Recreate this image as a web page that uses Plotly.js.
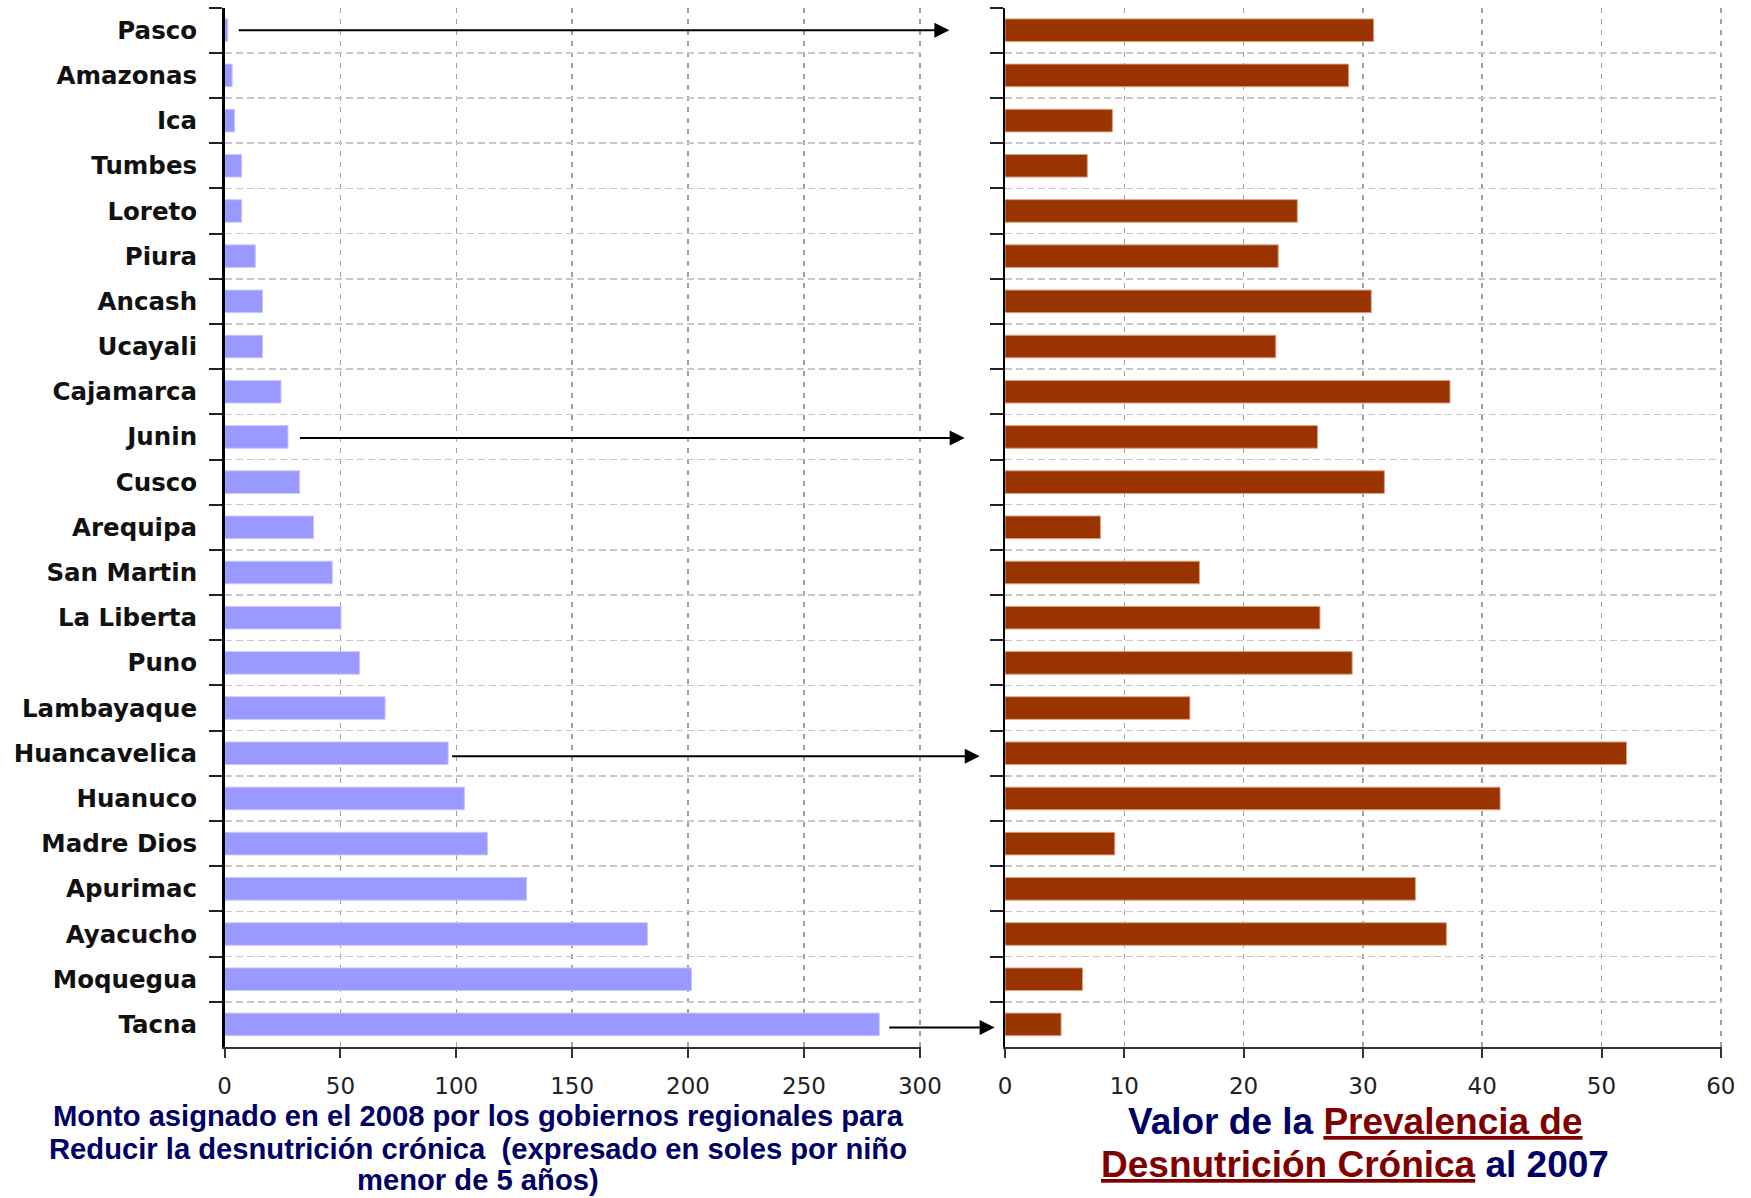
<!DOCTYPE html>
<html>
<head>
<meta charset="utf-8">
<script src="https://cdn.plot.ly/plotly-3.0.1.min.js"></script>
<style>
  html, body { margin: 0; padding: 0; background: #ffffff; }
  #chart { width: 1751px; height: 1198px; }
</style>
</head>
<body>
<div id="chart"></div>
<script>
// ---- Data ----
const regiones = ["Pasco", "Amazonas", "Ica", "Tumbes", "Loreto", "Piura", "Ancash", "Ucayali",
  "Cajamarca", "Junin", "Cusco", "Arequipa", "San Martin", "La Liberta", "Puno", "Lambayaque",
  "Huancavelica", "Huanuco", "Madre Dios", "Apurimac", "Ayacucho", "Moquegua", "Tacna"];

// Monto asignado 2008 (soles por niño menor de 5 años)
const montoSoles = [1.4, 3.3, 4.3, 7.4, 7.4, 13.3, 16.4, 16.4,
  24.4, 27.4, 32.4, 38.4, 46.5, 50.3, 58.3, 69.3,
  96.5, 103.5, 113.5, 130.3, 182.5, 201.5, 282.5];

// Prevalencia de desnutrición crónica 2007 (%)
const prevalencia = [30.9, 28.8, 9.0, 6.9, 24.5, 22.9, 30.7, 22.7,
  37.3, 26.2, 31.8, 8.0, 16.3, 26.4, 29.1, 15.5,
  52.1, 41.5, 9.2, 34.4, 37.0, 6.5, 4.7];

const ticksMonto = [0, 50, 100, 150, 200, 250, 300];
const ticksPrev = [0, 10, 20, 30, 40, 50, 60];

// Regions linked by arrows from the left chart to the right chart
const regionesFlecha = ["Pasco", "Junin", "Huancavelica", "Tacna"];

const tituloIzq = [
  "Monto asignado en el 2008 por los gobiernos regionales para",
  "Reducir la desnutrición crónica  (expresado en soles por niño",
  "menor de 5 años)"
];
const tituloDer = [
  "Valor de la <span style=\"color:#800000\"><u>Prevalencia de</u></span>",
  "<span style=\"color:#800000\"><u>Desnutrición Crónica</u></span> al 2007"
];

// ---- Layout helpers (positions / styles) ----
const W = 1751, H = 1198;
const leftX = [224.5 / W, 921 / W];
const rightX = [1005 / W, 1722 / W];
const yDom = [(H - 1047) / H, (H - 7.6) / H];

// arrow head positions, expressed on the left x axis scale, plus tail gaps (px)
const arrowHead = [313.4, 320.0, 326.5, 332.9];
const arrowGap = [11, 12, 4, 10];
const arrowYShift = [0, -1, -3, -3];

const traces = [
  {
    type: 'bar', orientation: 'h',
    x: montoSoles, y: regiones,
    xaxis: 'x', yaxis: 'y',
    marker: { color: '#9999ff', line: { color: '#c8c8ff', width: 1 } },
    hoverinfo: 'x+y'
  },
  {
    type: 'bar', orientation: 'h',
    x: prevalencia, y: regiones,
    xaxis: 'x2', yaxis: 'y2',
    marker: { color: '#993300', line: { color: '#dda080', width: 1 } },
    hoverinfo: 'x+y'
  }
];

const xCommon = {
  showline: true, linecolor: '#333333', linewidth: 2,
  ticks: 'outside', ticklen: 9, tickwidth: 2, tickcolor: '#333333',
  showgrid: true, gridcolor: '#a0a0a0', gridwidth: 1.5, griddash: '5px,6px',
  zeroline: false, automargin: false,
  tickfont: { family: 'DejaVu Sans', size: 23, color: '#222222' },
  ticklabelstandoff: 8,
  fixedrange: true
};
const yCommon = {
  type: 'category', autorange: 'reversed',
  categoryorder: 'array', categoryarray: regiones,
  showline: true, linecolor: '#000000', linewidth: 2.5,
  ticks: 'outside', ticklen: 13, tickwidth: 2, tickcolor: '#222222',
  tickson: 'boundaries',
  showgrid: true, gridcolor: '#c8c8c8', gridwidth: 1.5, griddash: '7px,4px',
  zeroline: false, automargin: false, fixedrange: true,
  domain: yDom
};

const annotations = [];
regionesFlecha.forEach((reg, k) => {
  const i = regiones.indexOf(reg);
  annotations.push({
    xref: 'x', yref: 'y', x: montoSoles[i], y: reg,
    axref: 'x', ayref: 'pixel', ax: arrowHead[k], ay: 0,
    yshift: arrowYShift[k],
    text: '', font: { size: 1 },
    showarrow: true, arrowside: 'end+start',
    arrowhead: 0, standoff: arrowGap[k],
    startarrowhead: 2, startarrowsize: 1.5, startstandoff: 0,
    arrowwidth: 2, arrowcolor: '#000000'
  });
});

const leftTitleY = [(H - 1115.5) / H, (H - 1148.5) / H, (H - 1179.5) / H];
tituloIzq.forEach((t, k) => {
  annotations.push({
    xref: 'paper', yref: 'paper', x: 478.5 / W, y: leftTitleY[k],
    xanchor: 'center', yanchor: 'middle', showarrow: false,
    text: t,
    font: { family: 'Liberation Sans, Arial, sans-serif', size: 29.2, color: '#000066', weight: 'bold' }
  });
});
const rightTitleY = [(H - 1121) / H, (H - 1164) / H];
tituloDer.forEach((t, k) => {
  annotations.push({
    xref: 'paper', yref: 'paper', x: 1355 / W, y: rightTitleY[k],
    xanchor: 'center', yanchor: 'middle', showarrow: false,
    text: t,
    font: { family: 'Liberation Sans, Arial, sans-serif', size: 37, color: '#000066', weight: 'bold' }
  });
});

const layout = {
  width: W, height: H,
  margin: { l: 0, r: 0, t: 0, b: 0, pad: 0 },
  paper_bgcolor: '#ffffff', plot_bgcolor: '#ffffff',
  showlegend: false,
  bargap: 0.5,
  xaxis: Object.assign({}, xCommon, {
    domain: leftX, anchor: 'y', range: [0, 300.5],
    tickmode: 'array', tickvals: ticksMonto, ticktext: ticksMonto.map(String)
  }),
  xaxis2: Object.assign({}, xCommon, {
    domain: rightX, anchor: 'y2', range: [0, 60.1],
    tickmode: 'array', tickvals: ticksPrev, ticktext: ticksPrev.map(String)
  }),
  yaxis: Object.assign({}, yCommon, {
    anchor: 'x',
    showticklabels: true,
    tickfont: { family: 'DejaVu Sans', size: 24.5, color: '#111111', weight: 'bold' },
    ticklabelstandoff: 20
  }),
  yaxis2: Object.assign({}, yCommon, {
    anchor: 'x2',
    showticklabels: false
  }),
  annotations: annotations
};

Plotly.newPlot('chart', traces, layout, { displayModeBar: false, staticPlot: true });
</script>
</body>
</html>
